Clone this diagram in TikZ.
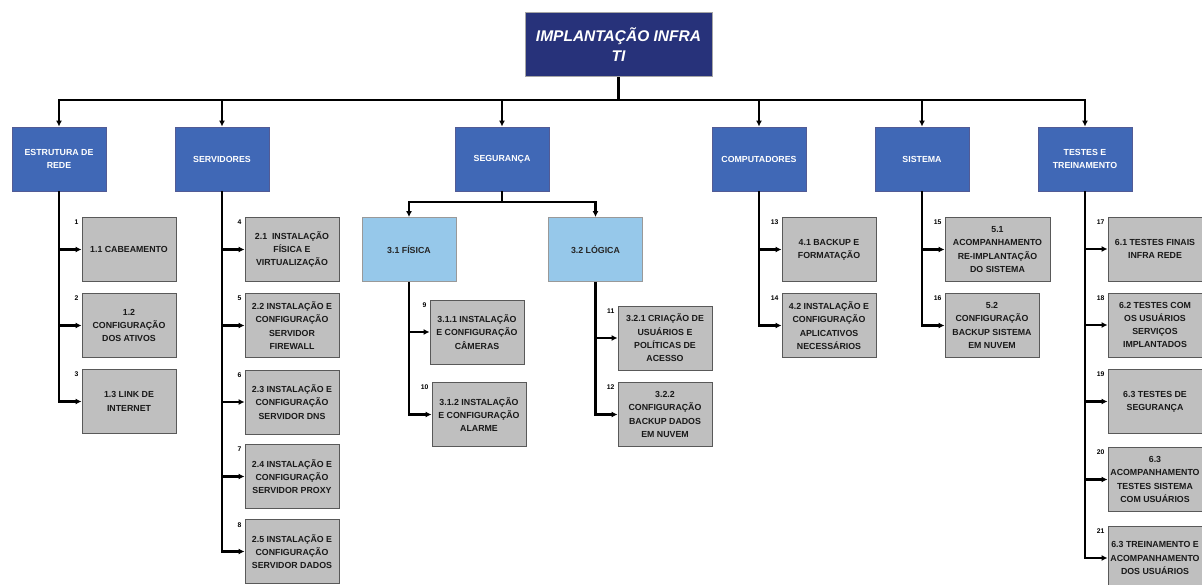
\documentclass[tikz,border=0pt]{standalone}
\usepackage{fontspec}
\setmainfont{Liberation Sans}
\usetikzlibrary{arrows.meta}

\definecolor{azulescuro}{HTML}{27327A}
\definecolor{azulmedio}{HTML}{4068B6}
\definecolor{azulclaro}{HTML}{96C8EA}
\definecolor{cinzacaixa}{HTML}{BFBFBF}

\tikzset{
  raiz/.style={draw=gray!70, line width=1pt, fill=azulescuro, text=white, align=center,
    minimum width=187, minimum height=64, font=\fontsize{15.5}{20}\selectfont\bfseries\itshape},
  grupo/.style={draw=azulescuro!80, line width=0.8pt, fill=azulmedio, text=white, align=center,
    minimum width=94, minimum height=64, inner sep=2pt, font=\fontsize{8.8}{13.5}\selectfont\bfseries},
  subgrupo/.style={grupo, fill=azulclaro, text=black!85, draw=gray!80},
  tarefa/.style={draw=black!65, line width=0.9pt, fill=cinzacaixa, text=black!90, align=center,
    minimum width=94, minimum height=64, inner sep=1pt, font=\fontsize{8.8}{13.3}\selectfont\bfseries},
  num/.style={anchor=north east, inner sep=1pt, font=\fontsize{6.8}{7}\selectfont\bfseries},
  linha/.style={line width=2.2pt},
  seta/.style={linha, -{Latex[length=6pt,width=6pt]}},
}

\begin{document}
\begin{tikzpicture}[x=1pt, y=-1pt]
      \useasboundingbox (0,0) rectangle (1202,585);
      \clip (0,0) rectangle (1202,585);

      % Raiz
      \node[raiz] (raiz) at (618.5,45) {IMPLANTAÇÃO INFRA\\TI};
      \coordinate (barra) at (618.5,100);

      % Grupos
      \node[grupo] (rede) at (59,159) {ESTRUTURA DE\\REDE};
      \node[grupo] (serv) at (222,159) {SERVIDORES};
      \node[grupo] (seg) at (502,159) {SEGURANÇA};
      \node[grupo] (comp) at (759,159) {COMPUTADORES};
      \node[grupo] (sist) at (922,159) {SISTEMA};
      \node[grupo] (test) at (1085,159) {TESTES E\\TREINAMENTO};

      \foreach \g in {rede,serv,seg,comp,sist,test}
        \draw[seta] (raiz.south) -- (barra) -| (\g.north);

      % Estrutura de rede
      \node[tarefa] (t11) at (129,249.5) {1.1 CABEAMENTO};
      \node[tarefa] (t12) at (129,325.5) {1.2\\CONFIGURAÇÃO\\DOS ATIVOS};
      \node[tarefa] (t13) at (129,401.5) {1.3 LINK DE\\INTERNET};

      % Servidores
      \node[tarefa] (t21) at (292,249.5) {2.1\ \ INSTALAÇÃO\\FÍSICA E\\VIRTUALIZAÇÃO};
      \node[tarefa] (t22) at (292,325.5) {2.2 INSTALAÇÃO E\\CONFIGURAÇÃO\\SERVIDOR\\FIREWALL};
      \node[tarefa] (t23) at (292,402) {2.3 INSTALAÇÃO E\\CONFIGURAÇÃO\\SERVIDOR DNS};
      \node[tarefa] (t24) at (292,476.5) {2.4 INSTALAÇÃO E\\CONFIGURAÇÃO\\SERVIDOR PROXY};
      \node[tarefa] (t25) at (292,551.5) {2.5 INSTALAÇÃO E\\CONFIGURAÇÃO\\SERVIDOR DADOS};

      % Segurança
      \node[subgrupo] (fis) at (409,249.5) {3.1 FÍSICA};
      \node[subgrupo] (log) at (595.5,249.5) {3.2 LÓGICA};
      \coordinate (segbarra) at (502,202);
      \draw[seta] (seg.south) -- (segbarra) -| (fis.north);
      \draw[seta] (seg.south) -- (segbarra) -| (log.north);

      \node[tarefa] (t311) at (477,332) {3.1.1 INSTALAÇÃO\\E CONFIGURAÇÃO\\CÂMERAS};
      \node[tarefa] (t312) at (479,414.5) {3.1.2 INSTALAÇÃO\\E CONFIGURAÇÃO\\ALARME};
      \node[tarefa] (t321) at (665,338) {3.2.1 CRIAÇÃO DE\\USUÁRIOS E\\POLÍTICAS DE\\ACESSO};
      \node[tarefa] (t322) at (665,414.5) {3.2.2\\CONFIGURAÇÃO\\BACKUP DADOS\\EM NUVEM};

      % Computadores
      \node[tarefa] (t41) at (829,249.5) {4.1 BACKUP E\\FORMATAÇÃO};
      \node[tarefa] (t42) at (829,325.5) {4.2 INSTALAÇÃO E\\CONFIGURAÇÃO\\APLICATIVOS\\NECESSÁRIOS};

      % Sistema
      \node[tarefa, minimum width=105] (t51) at (997.5,249.5) {5.1\\ACOMPANHAMENTO\\RE-IMPLANTAÇÃO\\DO SISTEMA};
      \node[tarefa] (t52) at (992,325.5) {5.2\\CONFIGURAÇÃO\\BACKUP SISTEMA\\EM NUVEM};

      % Testes e treinamento
      \node[tarefa] (t61) at (1155,249) {6.1 TESTES FINAIS\\INFRA REDE};
      \node[tarefa] (t62) at (1155,325) {6.2 TESTES COM\\OS USUÁRIOS\\SERVIÇOS\\IMPLANTADOS};
      \node[tarefa] (t63) at (1155,401.5) {6.3 TESTES DE\\SEGURANÇA};
      \node[tarefa] (t64) at (1155,479.5) {6.3\\ACOMPANHAMENTO\\TESTES SISTEMA\\COM USUÁRIOS};
      \node[tarefa] (t65) at (1155,558) {6.3 TREINAMENTO E\\ACOMPANHAMENTO\\DOS USUÁRIOS};

      % Ligações grupo -> tarefas
      \foreach \g/\t in {rede/t11,rede/t12,rede/t13,serv/t21,serv/t22,serv/t23,serv/t24,serv/t25,
                         fis/t311,fis/t312,log/t321,log/t322,comp/t41,comp/t42,sist/t51,sist/t52,
                         test/t61,test/t62,test/t63,test/t64,test/t65}
        \draw[seta] (\g.south) |- (\t.west);

      % Numeração
      \foreach \t/\n in {t11/1,t12/2,t13/3,t21/4,t22/5,t23/6,t24/7,t25/8,t311/9,t312/10,
                         t321/11,t322/12,t41/13,t42/14,t51/15,t52/16,t61/17,t62/18,t63/19,t64/20,t65/21}
        \node[num] (n\n) at ([xshift=-2pt,yshift=-2pt]\t.north west) {\n};
\end{tikzpicture}
\end{document}
